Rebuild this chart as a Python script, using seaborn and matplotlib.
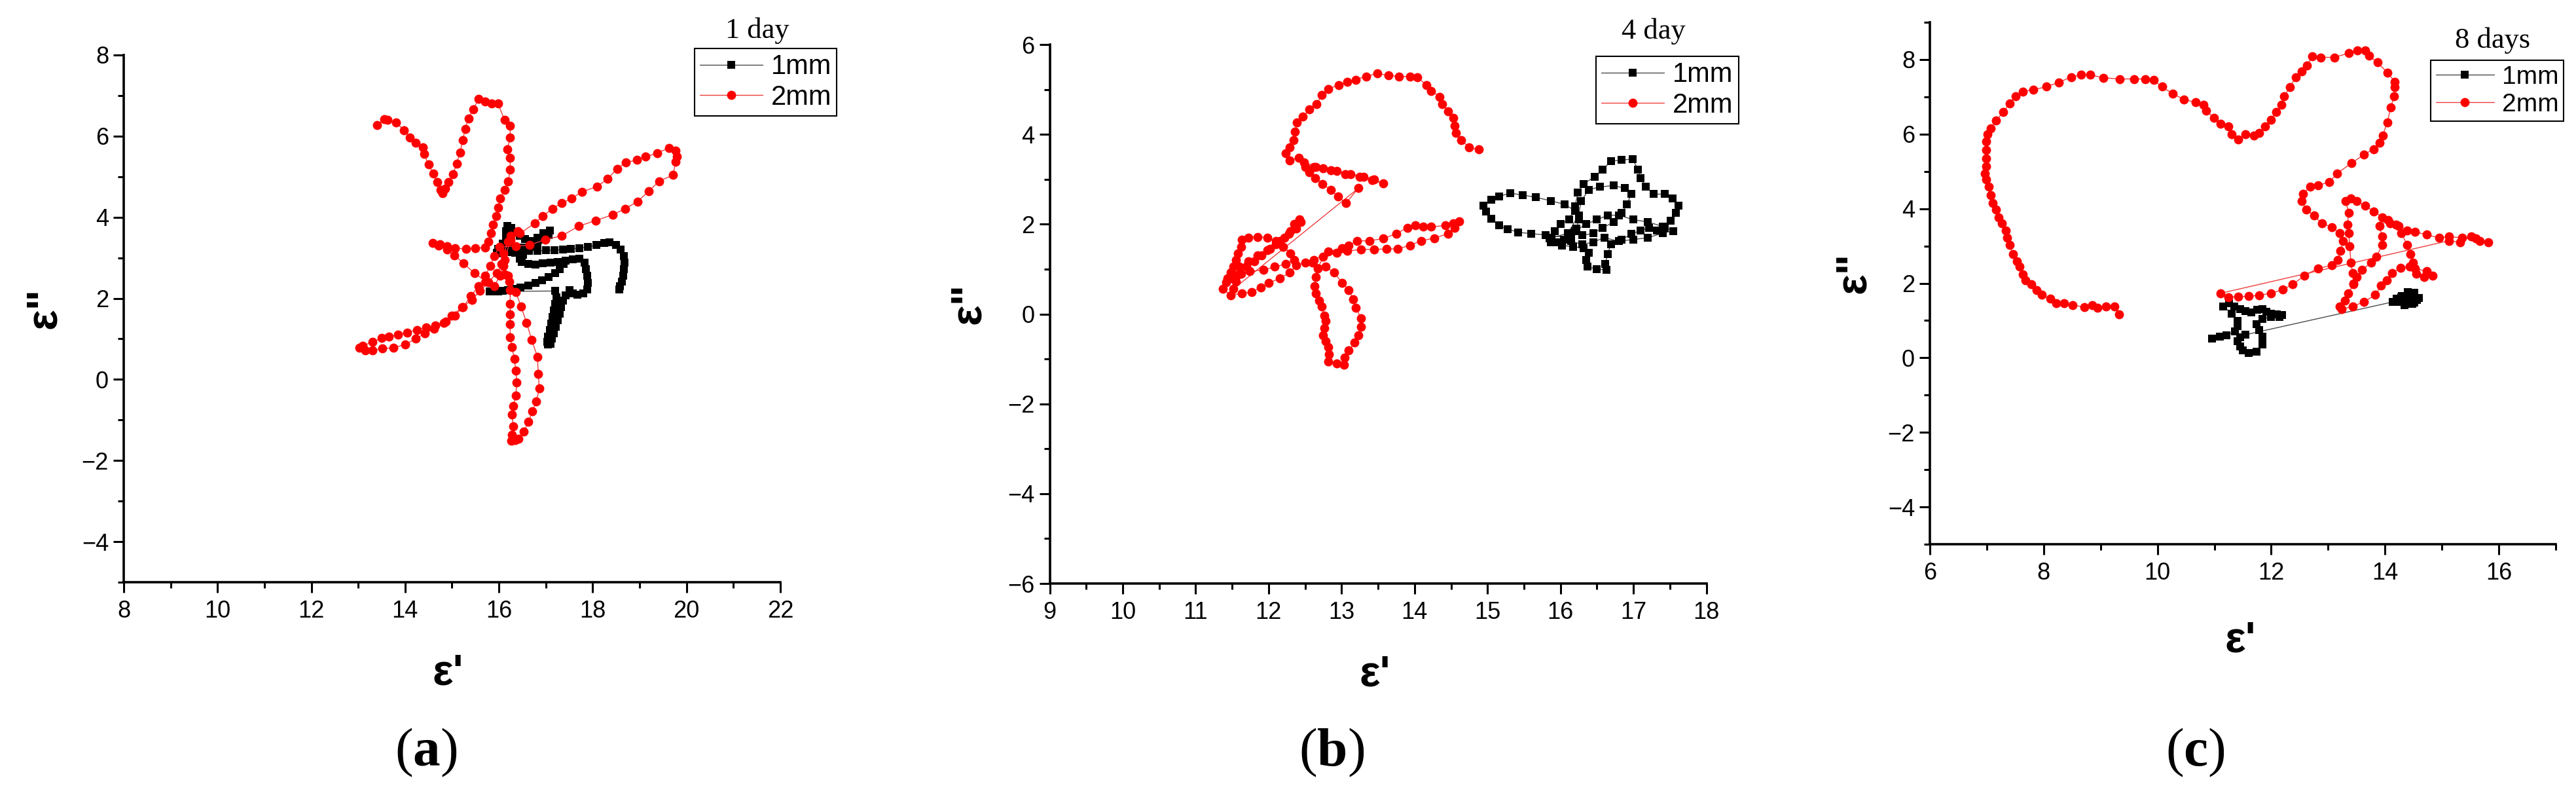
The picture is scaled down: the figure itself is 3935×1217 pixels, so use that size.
import numpy as np
import matplotlib
matplotlib.use('Agg')
import matplotlib.pyplot as plt
from matplotlib.ticker import MultipleLocator
import seaborn as sns


# (eps', eps'') points, in drawing order
day1_1mm = [(17.38, 2.85), (17.30, 2.72), (17.20, 2.62), (17.06, 2.53), (16.92, 2.45), (16.78, 2.38),
            (16.62, 2.32), (16.46, 2.27), (16.32, 2.23), (16.20, 2.20), (16.08, 2.18), (15.98, 2.17),
            (15.88, 2.17), (15.80, 2.17), (17.20, 2.18), (17.22, 2.02), (17.20, 1.86), (17.17, 1.70),
            (17.14, 1.54), (17.11, 1.38), (17.08, 1.22), (17.05, 1.06), (17.03, 0.92), (17.05, 0.86),
            (17.10, 0.88), (17.13, 1.00), (17.17, 1.14), (17.21, 1.30), (17.25, 1.46), (17.29, 1.62),
            (17.33, 1.78), (17.37, 1.94), (17.42, 2.08), (17.50, 2.20), (17.58, 2.12), (17.68, 2.09),
            (17.80, 2.12), (17.88, 2.22), (17.90, 2.38), (17.88, 2.55), (17.86, 2.72), (17.82, 2.88),
            (17.72, 2.98), (17.58, 2.96), (17.42, 2.93), (17.26, 2.90), (17.10, 2.88), (16.94, 2.86),
            (16.78, 2.84), (16.62, 2.85), (16.48, 2.90), (16.45, 2.98), (16.52, 3.07), (16.35, 3.12),
            (16.20, 3.15), (16.05, 3.12), (15.95, 3.12), (15.98, 3.22), (16.08, 3.35), (16.15, 3.50),
            (16.15, 3.65), (16.18, 3.78), (16.26, 3.74), (16.34, 3.64), (16.44, 3.54), (16.56, 3.46),
            (16.68, 3.42), (16.82, 3.50), (16.95, 3.60), (17.08, 3.67), (17.06, 3.56), (16.96, 3.44),
            (16.82, 3.34), (16.66, 3.28), (16.50, 3.26), (16.34, 3.24), (16.20, 3.22), (16.06, 3.18),
            (16.10, 3.10), (16.28, 3.14), (16.46, 3.16), (16.64, 3.17), (16.82, 3.17), (17.00, 3.18),
            (17.18, 3.19), (17.36, 3.20), (17.54, 3.22), (17.72, 3.24), (17.90, 3.27), (18.08, 3.31),
            (18.24, 3.36), (18.36, 3.38), (18.50, 3.32), (18.60, 3.20), (18.66, 3.05), (18.68, 2.88),
            (18.67, 2.72), (18.65, 2.56), (18.62, 2.42), (18.58, 2.30), (18.56, 2.22)]

day1_2mm = [(13.40, 6.27), (13.55, 6.42), (13.62, 6.40), (13.80, 6.33), (13.98, 6.15), (14.10, 5.97),
            (14.22, 5.84), (14.38, 5.73), (14.40, 5.56), (14.50, 5.30), (14.60, 5.07), (14.68, 4.87),
            (14.76, 4.68), (14.80, 4.60), (14.86, 4.70), (14.93, 4.86), (15.02, 5.06), (15.10, 5.32),
            (15.17, 5.60), (15.23, 5.90), (15.28, 6.18), (15.35, 6.44), (15.45, 6.66), (15.57, 6.92),
            (15.70, 6.85), (15.85, 6.80), (15.98, 6.80), (16.12, 6.40), (16.24, 6.26), (16.24, 5.97),
            (16.18, 5.68), (16.24, 5.47), (16.24, 5.18), (16.20, 4.89), (16.12, 4.68), (16.03, 4.46),
            (15.99, 4.24), (15.94, 4.03), (15.87, 3.81), (15.83, 3.60), (15.78, 3.40), (15.70, 3.25),
            (15.50, 3.24), (15.30, 3.22), (15.06, 3.24), (14.90, 3.28), (14.74, 3.33), (14.59, 3.37),
            (14.72, 3.30), (14.90, 3.20), (15.05, 3.06), (15.25, 2.86), (15.48, 2.62), (15.72, 2.42),
            (15.90, 2.30), (16.02, 2.55), (16.10, 2.80), (16.12, 2.95), (16.25, 3.45), (16.45, 3.60),
            (16.76, 3.85), (16.94, 4.03), (17.14, 4.21), (17.34, 4.35), (17.55, 4.46), (17.77, 4.63),
            (18.09, 4.75), (18.32, 4.95), (18.52, 5.19), (18.70, 5.35), (18.94, 5.41), (19.13, 5.49),
            (19.37, 5.58), (19.63, 5.71), (19.77, 5.65), (19.80, 5.50), (19.77, 5.36), (19.71, 5.04),
            (19.42, 4.89), (19.19, 4.64), (18.96, 4.39), (18.69, 4.21), (18.42, 4.06), (18.07, 3.92),
            (17.70, 3.78), (17.34, 3.54), (16.99, 3.45), (16.65, 3.31), (16.36, 3.29), (16.01, 3.27),
            (15.90, 3.05), (15.82, 2.80), (15.70, 2.55), (15.56, 2.30), (15.40, 2.05), (15.23, 1.78),
            (15.06, 1.58), (14.87, 1.42), (14.65, 1.33), (14.45, 1.28), (14.25, 1.22), (14.05, 1.16),
            (13.85, 1.10), (13.65, 1.05), (13.50, 1.02), (13.30, 0.92), (13.10, 0.83), (13.02, 0.78),
            (13.15, 0.72), (13.30, 0.72), (13.52, 0.76), (13.75, 0.78), (14.00, 0.86), (14.22, 1.00),
            (14.42, 1.13), (14.62, 1.25), (14.82, 1.40), (15.00, 1.58), (15.22, 1.78), (15.42, 1.96),
            (15.60, 2.18), (15.78, 2.40), (15.95, 2.62), (16.08, 2.85), (16.20, 2.55), (16.24, 2.20),
            (16.24, 1.87), (16.24, 1.60), (16.24, 1.37), (16.24, 1.04), (16.28, 0.79), (16.33, 0.50),
            (16.36, 0.22), (16.38, -0.07), (16.36, -0.40), (16.31, -0.65), (16.28, -0.86), (16.30, -1.15),
            (16.28, -1.37), (16.27, -1.51), (16.35, -1.50), (16.42, -1.47), (16.53, -1.29), (16.63, -1.04),
            (16.71, -0.79), (16.80, -0.54), (16.86, -0.22), (16.84, 0.14), (16.82, 0.56), (16.70, 0.97),
            (16.59, 1.40), (16.47, 1.80), (16.36, 2.16), (16.22, 2.41), (16.13, 2.59), (16.05, 2.85),
            (16.10, 3.10), (16.20, 3.40), (16.25, 3.55), (16.40, 3.65)]

day4_1mm = [(16.10, 1.70), (15.80, 1.76), (15.60, 1.79), (15.42, 1.82), (15.28, 1.89), (15.16, 1.97),
            (15.05, 2.12), (14.98, 2.28), (14.94, 2.41), (15.05, 2.54), (15.16, 2.62), (15.31, 2.69),
            (15.48, 2.65), (15.66, 2.60), (15.87, 2.52), (16.06, 2.44), (16.20, 2.30), (16.25, 2.10),
            (16.22, 1.90), (16.15, 1.75), (16.05, 1.65), (15.95, 1.60), (15.88, 1.70), (15.92, 1.85),
            (16.00, 2.00), (16.12, 2.10), (16.20, 2.40), (16.24, 2.70), (16.32, 2.90), (16.47, 3.06),
            (16.58, 3.22), (16.69, 3.40), (16.84, 3.43), (16.99, 3.45), (17.06, 3.22), (17.10, 3.03),
            (17.17, 2.83), (17.28, 2.67), (17.43, 2.67), (17.54, 2.57), (17.62, 2.41), (17.58, 2.25),
            (17.51, 2.08), (17.43, 1.92), (17.32, 1.86), (17.21, 1.92), (17.10, 1.86), (16.97, 1.78),
            (16.84, 1.66), (16.69, 1.56), (16.65, 1.34), (16.61, 1.11), (16.63, 0.98), (16.50, 1.00),
            (16.37, 1.05), (16.35, 1.21), (16.39, 1.37), (16.32, 1.47), (16.17, 1.50), (16.02, 1.53),
            (15.87, 1.60), (15.85, 1.68), (16.10, 1.80), (16.25, 2.20), (16.28, 2.51), (16.39, 2.77),
            (16.54, 2.83), (16.73, 2.86), (16.88, 2.80), (16.97, 2.67), (16.91, 2.44), (16.84, 2.25),
            (16.73, 2.05), (16.58, 1.92), (16.45, 1.80), (16.30, 1.75), (16.20, 1.85), (16.35, 2.00),
            (16.50, 2.10), (16.65, 2.20), (16.80, 2.20), (17.00, 2.10), (17.20, 2.05), (17.40, 1.95),
            (17.55, 1.85), (17.40, 1.80), (17.20, 1.70), (17.00, 1.66), (16.80, 1.62), (16.60, 1.70),
            (16.45, 1.60), (16.30, 1.55), (16.15, 1.62)]

day4_2mm = [(12.62, 1.20), (12.82, 1.39), (13.01, 1.47), (13.10, 1.53), (13.21, 1.63), (13.38, 1.63),
            (13.57, 1.68), (13.75, 1.79), (13.90, 1.92), (14.01, 1.97), (14.12, 1.94), (14.23, 1.94),
            (14.42, 1.97), (14.53, 2.02), (14.61, 2.06), (14.55, 1.92), (14.46, 1.79), (14.27, 1.69),
            (14.09, 1.63), (13.94, 1.53), (13.77, 1.45), (13.62, 1.45), (13.45, 1.44), (13.27, 1.44),
            (13.08, 1.40), (12.93, 1.36), (12.75, 1.27), (12.67, 1.01), (12.65, 0.82), (12.63, 0.62),
            (12.65, 0.46), (12.69, 0.30), (12.73, 0.17), (12.76, -0.03), (12.78, -0.16), (12.76, -0.32),
            (12.75, -0.48), (12.78, -0.61), (12.82, -0.74), (12.83, -0.90), (12.82, -1.06), (12.93, -1.10),
            (13.03, -1.13), (13.04, -0.97), (13.10, -0.81), (13.18, -0.64), (13.23, -0.48), (13.27, -0.29),
            (13.27, -0.09), (13.19, 0.14), (13.16, 0.33), (13.10, 0.53), (13.01, 0.69), (12.90, 0.92),
            (12.78, 1.05), (12.60, 1.15), (12.50, 1.15), (12.38, 1.08), (12.29, 0.92), (12.15, 0.79),
            (12.00, 0.69), (11.89, 0.59), (11.77, 0.49), (11.63, 0.46), (11.48, 0.42), (11.37, 0.56),
            (11.42, 0.70), (11.48, 0.79), (11.59, 0.88), (11.74, 0.95), (11.93, 0.98), (12.08, 1.05),
            (12.23, 1.11), (12.35, 1.20), (12.30, 1.35), (12.20, 1.50), (12.10, 1.62), (11.98, 1.70),
            (11.85, 1.72), (11.72, 1.70), (11.63, 1.66), (11.62, 1.50), (11.58, 1.35), (11.55, 1.20),
            (11.52, 1.05), (11.48, 0.92), (11.44, 0.80), (11.50, 0.90), (11.60, 1.05), (11.72, 1.18),
            (11.85, 1.30), (11.98, 1.42), (12.10, 1.55), (12.22, 1.70), (12.30, 1.85), (12.35, 2.00),
            (12.42, 2.10), (12.44, 2.05), (12.38, 1.90), (12.28, 1.78), (12.15, 1.62), (12.02, 1.45),
            (11.90, 1.30), (11.80, 1.18), (11.70, 1.05), (11.62, 0.90), (11.55, 0.72), (11.52, 0.56),
            (13.23, 2.80), (13.06, 2.47), (12.95, 2.62), (12.85, 2.76), (12.74, 2.90), (12.64, 3.03),
            (12.56, 3.15), (12.50, 3.28), (12.62, 3.27), (12.75, 3.25), (12.93, 3.19), (13.12, 3.12),
            (13.30, 3.06), (13.45, 2.99), (13.57, 2.91), (13.42, 2.98), (13.25, 3.05), (13.05, 3.12),
            (12.85, 3.20), (12.65, 3.28), (12.49, 3.38), (12.41, 3.48), (12.29, 3.42), (12.23, 3.58),
            (12.29, 3.71), (12.34, 3.87), (12.36, 4.06), (12.39, 4.26), (12.47, 4.39), (12.56, 4.55),
            (12.66, 4.68), (12.73, 4.88), (12.82, 5.01), (12.96, 5.10), (13.08, 5.17), (13.19, 5.22),
            (13.34, 5.29), (13.49, 5.36), (13.64, 5.31), (13.79, 5.29), (13.94, 5.29), (14.04, 5.27),
            (14.16, 5.10), (14.23, 4.97), (14.34, 4.84), (14.38, 4.68), (14.46, 4.52), (14.53, 4.36),
            (14.55, 4.19), (14.57, 4.03), (14.64, 3.87), (14.75, 3.71), (14.88, 3.66)]

day8_1mm = [(10.96, 0.52), (11.10, 0.56), (11.21, 0.60), (11.36, 0.71), (11.41, 0.85), (11.41, 0.99),
            (11.31, 1.18), (11.16, 1.38), (11.26, 1.46), (11.35, 1.38), (11.45, 1.30), (11.55, 1.25),
            (11.65, 1.22), (11.75, 1.28), (11.84, 1.30), (11.92, 1.24), (11.99, 1.18), (12.10, 1.16),
            (12.19, 1.14), (12.15, 1.10), (12.00, 1.10), (11.85, 1.05), (11.74, 0.91), (11.79, 0.75),
            (11.84, 0.56), (11.84, 0.36), (11.74, 0.16), (11.60, 0.13), (11.50, 0.20), (11.45, 0.30),
            (11.41, 0.44), (11.45, 0.55), (11.55, 0.62), (14.14, 1.50), (14.20, 1.58), (14.30, 1.65),
            (14.40, 1.72), (14.50, 1.66), (14.56, 1.55), (14.48, 1.45), (14.34, 1.42), (14.22, 1.50),
            (14.28, 1.62), (14.40, 1.76), (14.52, 1.74), (14.60, 1.60), (14.52, 1.48), (14.38, 1.52),
            (14.30, 1.60)]

day8_2mm = [(9.32, 1.16), (9.25, 1.38), (9.10, 1.38), (8.95, 1.34), (8.85, 1.42), (8.71, 1.36),
            (8.51, 1.42), (8.36, 1.46), (8.22, 1.46), (8.12, 1.58), (7.97, 1.69), (7.87, 1.81),
            (7.78, 1.97), (7.68, 2.08), (7.63, 2.24), (7.58, 2.44), (7.53, 2.59), (7.46, 2.79),
            (7.40, 3.03), (7.36, 3.22), (7.34, 3.42), (7.27, 3.61), (7.21, 3.77), (7.16, 3.97),
            (7.11, 4.16), (7.07, 4.36), (7.04, 4.59), (6.99, 4.79), (6.97, 4.95), (6.99, 5.14),
            (6.99, 5.34), (6.99, 5.57), (6.99, 5.81), (7.01, 6.00), (7.07, 6.16), (7.16, 6.36),
            (7.29, 6.59), (7.40, 6.83), (7.51, 7.02), (7.63, 7.14), (7.82, 7.19), (8.05, 7.27),
            (8.27, 7.39), (8.48, 7.53), (8.66, 7.59), (8.82, 7.59), (9.05, 7.51), (9.34, 7.48),
            (9.59, 7.48), (9.78, 7.48), (9.93, 7.45), (10.08, 7.27), (10.27, 7.08), (10.47, 6.93),
            (10.67, 6.85), (10.81, 6.79), (10.86, 6.63), (10.99, 6.43), (11.11, 6.28), (11.25, 6.20),
            (11.30, 6.00), (11.42, 5.85), (11.55, 5.99), (11.69, 5.96), (11.79, 6.04), (11.89, 6.20),
            (11.99, 6.39), (12.09, 6.59), (12.18, 6.79), (12.23, 7.02), (12.33, 7.26), (12.43, 7.53),
            (12.53, 7.69), (12.63, 7.84), (12.72, 8.08), (12.87, 8.06), (13.11, 8.06), (13.36, 8.17),
            (13.51, 8.24), (13.65, 8.24), (13.72, 8.10), (13.87, 7.92), (14.04, 7.65), (14.17, 7.41),
            (14.17, 7.26), (14.16, 7.02), (14.10, 6.71), (14.04, 6.32), (13.96, 5.96), (13.90, 5.77),
            (13.80, 5.60), (13.63, 5.45), (13.41, 5.22), (13.16, 4.95), (13.02, 4.71), (12.82, 4.63),
            (12.68, 4.59), (12.56, 4.40), (12.53, 4.20), (12.62, 3.97), (12.75, 3.81), (12.89, 3.61),
            (13.07, 3.50), (13.20, 3.34), (13.26, 3.14), (13.22, 2.87), (13.17, 2.63), (13.07, 2.48),
            (12.82, 2.40), (12.58, 2.20), (12.38, 1.97), (12.20, 1.83), (12.00, 1.73), (11.79, 1.68),
            (11.60, 1.65), (11.42, 1.64), (11.25, 1.63), (11.11, 1.73), (15.12, 3.14), (15.32, 3.10),
            (15.52, 3.26), (15.66, 3.14), (15.81, 3.10), (15.60, 3.20), (15.35, 3.22), (15.12, 3.25),
            (14.95, 3.22), (14.73, 3.30), (14.53, 3.38), (14.39, 3.42), (14.24, 3.53), (14.09, 3.61),
            (13.95, 3.77), (13.80, 3.93), (13.65, 4.08), (13.50, 4.20), (13.40, 4.28), (13.31, 4.20),
            (13.36, 3.89), (13.34, 3.57), (13.36, 3.34), (13.38, 3.00), (13.40, 2.55), (13.43, 2.28),
            (13.45, 1.97), (13.35, 1.73), (13.30, 1.54), (13.20, 1.38), (13.24, 1.30), (13.43, 1.38),
            (13.63, 1.50), (13.83, 1.69), (13.93, 1.93), (14.03, 2.08), (14.12, 2.28), (14.27, 2.41),
            (14.43, 2.44), (14.53, 2.40), (14.73, 2.32), (14.84, 2.20), (14.69, 2.16), (14.55, 2.25),
            (14.49, 2.55), (14.44, 2.79), (14.39, 3.03), (14.29, 3.34), (14.19, 3.57), (14.05, 3.70),
            (13.90, 3.53), (13.95, 3.26), (13.95, 3.03), (13.85, 2.71), (13.75, 2.55), (13.60, 2.36),
            (13.50, 2.16), (13.45, 2.00)]

legend_labels = ['1mm', '2mm']
panel_titles = ['1 day', '4 day', '8 days']
panel_letters = ['a', 'b', 'c']

sns.set_style('ticks', {'axes.edgecolor': 'black', 'xtick.color': 'black', 'ytick.color': 'black',
                        'text.color': 'black', 'axes.labelcolor': 'black'})
plt.rcParams['font.family'] = ['Liberation Sans', 'DejaVu Sans']
plt.rcParams['mathtext.fontset'] = 'custom'
plt.rcParams['mathtext.rm'] = 'Liberation Serif'
plt.rcParams['mathtext.bf'] = 'Liberation Serif:bold'

fig = plt.figure(figsize=(39.35, 12.17), dpi=100)

panels = [
    dict(rect=[0.04803, 0.26952, 0.25489, 0.66146], xlim=(8, 22), ylim=(-5, 8), xstep=2, ystep=2,
         data=(day1_1mm, day1_2mm), xlab=(0.4935, -0.135), ylab=(-0.090, 0.52),
         leg=(0.26963, 0.93919), legfs=30, title=(0.29403, 0.95234), letter=(0.1654, 0.0394)),
    dict(rect=[0.40750, 0.26787, 0.25492, 0.67625], xlim=(9, 18), ylim=(-6, 6), xstep=1, ystep=2,
         data=(day4_1mm, day4_2mm), xlab=(0.495, -0.132), ylab=(-0.092, 0.52),
         leg=(0.61957, 0.92934), legfs=30, title=(0.64193, 0.95152), letter=(0.5169, 0.0394)),
    dict(rect=[0.74917, 0.31717, 0.24295, 0.65489], xlim=(6, 17), ylim=(-5, 9), xstep=2, ystep=2,
         data=(day8_1mm, day8_2mm), xlab=(0.496, -0.146), ylab=(-0.089, 0.52),
         leg=(0.94358, 0.92440), legfs=28, title=(0.96773, 0.94002), letter=(0.8521, 0.0394)),
]

for p, title, letter in zip(panels, panel_titles, panel_letters):
    ax = fig.add_axes(p['rect'])
    thin, thick = p['data']

    a1 = np.array(thin)
    a2 = np.array(thick)
    sns.lineplot(x=a1[:, 0], y=a1[:, 1], sort=False, estimator=None, ax=ax,
                 color='#4a4a4a', linewidth=1.0, marker='s', markersize=8.5,
                 markerfacecolor='black', markeredgecolor='black', markeredgewidth=0,
                 label=legend_labels[0])
    sns.lineplot(x=a2[:, 0], y=a2[:, 1], sort=False, estimator=None, ax=ax,
                 color='#f03c3c', linewidth=1.0, marker='o', markersize=10,
                 markerfacecolor='#ff0000', markeredgecolor='#ff0000', markeredgewidth=0,
                 label=legend_labels[1])

    ax.set_xlim(*p['xlim'])
    ax.set_ylim(*p['ylim'])
    ax.xaxis.set_major_locator(MultipleLocator(p['xstep']))
    ax.xaxis.set_minor_locator(MultipleLocator(p['xstep'] / 2))
    ax.yaxis.set_major_locator(MultipleLocator(p['ystep']))
    ax.yaxis.set_minor_locator(MultipleLocator(p['ystep'] / 2))
    ax.tick_params(which='major', direction='out', length=11.5, width=2.2, labelsize=26)
    ax.tick_params(which='minor', direction='out', length=6.5, width=2.2)
    ax.tick_params(axis='x', which='major', pad=8)
    ax.tick_params(axis='y', which='major', pad=5)

    sns.despine(ax=ax)
    for side in ['left', 'bottom']:
        ax.spines[side].set_linewidth(2.6)
        ax.spines[side].set_color('black')

    ax.set_xlabel("ε'", fontsize=48, fontweight='bold')
    ax.set_ylabel('ε"', fontsize=48, fontweight='bold')
    ax.xaxis.set_label_coords(*p['xlab'])
    ax.yaxis.set_label_coords(*p['ylab'])

    handles, labels = ax.get_legend_handles_labels()
    leg = ax.legend(handles=handles, labels=labels, loc='upper left',
                    bbox_to_anchor=p['leg'], bbox_transform=fig.transFigure,
                    frameon=True, fancybox=False, edgecolor='black', framealpha=1,
                    fontsize=p['legfs'], handlelength=2.3, handletextpad=0.3,
                    borderpad=0.2, labelspacing=0.15, borderaxespad=0)
    leg.get_frame().set_linewidth(1.5)

    fig.text(p['title'][0], p['title'][1], title, family='Liberation Serif', fontsize=32,
             ha='center', va='baseline')
    fig.text(p['letter'][0], p['letter'][1], r'($\mathbf{%s}$)' % letter, family='Liberation Serif',
             fontsize=60, ha='center', va='baseline')

fig.savefig('out.png', dpi=100)
